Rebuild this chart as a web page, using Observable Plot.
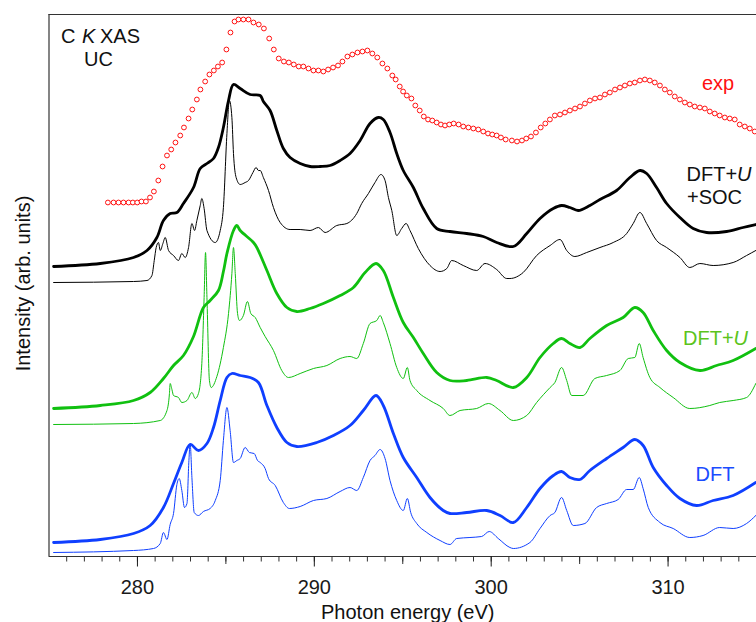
<!DOCTYPE html>
<html>
<head>
<meta charset="utf-8">
<script src="https://cdn.jsdelivr.net/npm/d3@7"></script>
<script src="https://cdn.jsdelivr.net/npm/@observablehq/plot@0.6"></script>
<style>
  html, body { margin: 0; padding: 0; background: #fff; }
</style>
</head>
<body>
<div id="chart"></div>
<script>
// ---- Data (photon energy in eV, intensity in arb. units) ----
const expE = [278.33,278.65,278.93,279.21,279.50,279.74,279.99,280.23,280.48,280.71,280.93,281.18,281.42,281.67,281.91,282.15,282.42,282.63,282.89,283.10,283.36,283.56,283.83,284.07,284.32,284.55,284.79,285.03,285.26,285.49,285.71,285.99,286.28,286.56,286.86,287.15,287.45,287.71,287.99,288.28,288.56,288.84,289.12,289.38,289.67,289.95,290.23,290.51,290.78,291.06,291.34,291.59,291.87,292.15,292.44,292.72,293.00,293.28,293.56,293.85,294.13,294.41,294.60,294.83,295.02,295.23,295.49,295.71,295.96,296.19,296.43,296.67,296.92,297.16,297.39,297.63,297.88,298.16,298.42,298.71,298.99,299.27,299.55,299.82,300.06,300.31,300.55,300.82,301.17,301.46,301.74,301.98,302.25,302.53,302.80,303.06,303.32,303.60,303.89,304.17,304.45,304.74,305.02,305.30,305.58,305.87,306.15,306.43,306.71,307.00,307.28,307.56,307.84,308.12,308.41,308.69,308.97,309.25,309.54,309.82,310.10,310.38,310.67,310.95,311.23,311.51,311.80,312.08,312.36,312.64,312.92,313.21,313.49,313.77,314.05,314.34,314.62,314.90];
const expI = [354,354,354,354,354,354,354,355,355,359,365,376,390,401,407,414,421,429,438,447,457,467,475,482,486,490,494,507,524,535,537,537,537,534,532,528,518,507,498,495,494,492,490,490,488,486,486,485,487,489,491,495,500,502,504,505,506,503,499,493,488,481,477,470,465,461,458,451,446,440,437,436,434,432,431,432,433,432,430,429,428,427,425,423,422,421,419,417,416,415,416,418,420,424,429,433,437,441,442,444,446,448,450,453,456,458,459,462,464,467,469,471,473,474,476,477,476,474,471,467,464,460,457,454,452,450,449,448,445,443,441,439,438,437,432,430,428,425];

// DFT+U+SOC (broadened, thick black)
const socThickE = [275.26,277.90,279.78,280.54,281.10,281.47,281.85,282.23,282.60,283.17,283.55,283.93,284.30,284.58,284.86,285.15,285.43,285.81,286.37,286.94,287.12,287.50,287.88,288.25,288.63,289.20,289.76,290.33,290.89,291.46,292.02,292.59,293.15,293.62,293.90,294.28,294.66,295.03,295.60,296.16,296.92,297.67,298.62,299.55,300.31,301.25,302.01,302.76,303.51,303.98,304.45,304.92,305.58,306.15,307.09,307.84,308.41,308.79,309.35,309.92,310.67,311.42,312.18,313.31,314.24,314.96];
const socThickI = [290,293,299,306,319,336,343,344,353,369,388,393,398,409,429,456,472,468,462,461,455,446,426,408,399,393,390,390,391,396,403,416,433,439,437,424,403,386,369,348,328,325,323,320,314,310,323,338,348,351,349,346,351,357,366,379,386,383,369,353,339,328,324,325,329,332];
// DFT+U+SOC (raw, thin black)
const socThinE = [275.26,279.78,280.54,280.82,280.95,281.06,281.19,281.29,281.44,281.57,281.76,282.04,282.32,282.51,282.70,282.89,283.08,283.23,283.36,283.55,283.64,283.77,283.93,284.40,284.68,284.86,285.06,285.20,285.34,285.43,285.58,285.81,286.09,286.28,286.53,286.71,286.84,286.94,287.12,287.41,287.69,288.07,288.63,289.20,289.76,290.23,290.61,291.27,291.84,292.40,292.68,293.06,293.43,293.77,294.00,294.19,294.38,294.66,294.94,295.19,295.41,295.88,296.54,297.11,297.49,297.77,298.42,299.18,299.65,300.31,300.88,301.06,301.81,302.57,303.33,303.89,304.27,304.73,305.40,306.15,306.90,307.66,308.03,308.41,308.79,309.35,309.92,310.67,311.23,311.80,312.55,313.68,314.44,314.96];
const socThinI = [274,275,276,281,296,309,314,306,313,319,306,301,296,303,299,309,333,326,336,351,358,348,326,314,326,349,423,456,439,403,379,372,374,376,384,389,386,386,379,366,349,334,327,327,326,329,324,331,333,343,353,363,374,382,376,359,346,321,328,333,326,308,291,285,288,296,291,286,293,287,278,278,284,301,311,317,306,300,304,309,314,323,333,344,333,316,309,299,289,293,291,294,301,306];

// DFT+U (thick / thin green)
const dftuThickE = [275.26,277.90,279.78,280.72,281.47,282.04,282.60,283.17,283.73,284.11,284.58,284.86,285.06,285.43,285.62,285.81,286.56,286.75,287.32,287.88,288.45,289.01,289.76,290.51,291.46,292.21,292.87,293.49,293.90,294.47,295.03,295.60,296.16,296.92,297.67,298.62,299.75,300.31,301.25,302.01,302.76,303.51,303.98,304.45,305.02,305.58,306.53,307.46,308.12,308.59,309.16,309.92,310.67,311.80,312.74,313.68,314.96];
const dftuThickI = [148,151,156,164,178,191,201,220,249,256,266,285,303,326,331,326,314,309,286,263,249,245,248,253,261,269,284,293,286,259,234,219,203,184,176,176,179,176,169,179,199,213,218,213,209,218,231,239,249,244,226,206,194,186,191,196,208];
const dftuThinE = [275.26,279.78,281.29,281.67,281.81,281.85,281.95,282.04,282.32,282.51,282.80,283.08,283.27,283.45,283.64,283.77,283.85,283.93,284.07,284.17,284.49,284.86,285.15,285.34,285.43,285.53,285.66,285.77,285.99,286.22,286.41,286.66,286.94,287.22,287.69,288.16,288.54,289.20,289.95,290.71,291.46,292.02,292.40,292.77,293.15,293.53,293.72,293.90,294.28,294.66,295.03,295.26,295.41,295.79,296.54,297.29,297.67,298.24,299.18,299.84,300.50,301.25,302.01,302.57,303.33,303.60,303.98,304.27,304.55,305.20,305.86,306.53,307.28,307.75,308.12,308.37,308.59,308.97,309.54,310.29,311.23,312.36,312.92,313.68,314.44,314.96];
const dftuThinI = [132,133,136,146,163,173,167,161,159,154,156,164,158,163,193,259,304,259,176,169,180,209,243,283,309,283,243,236,241,255,243,239,229,220,206,186,179,183,188,191,198,200,198,213,233,236,241,234,213,189,178,189,176,166,156,148,141,146,148,153,146,136,141,154,169,174,189,176,161,161,178,181,186,198,199,213,199,179,169,159,148,151,154,156,159,173];

// DFT (thick / thin blue)
const dftThickE = [275.26,277.90,279.78,280.72,281.47,282.04,282.51,282.98,283.45,283.93,284.30,284.68,285.06,285.34,285.81,286.37,286.84,287.32,287.88,288.45,289.01,290.14,291.08,292.02,292.77,293.49,293.90,294.47,295.03,295.79,296.54,297.29,297.67,298.62,299.75,300.50,301.25,302.01,302.76,303.51,303.98,304.45,305.02,305.58,306.53,307.46,308.12,308.59,309.16,309.92,310.67,311.61,312.55,313.68,314.96];
const dftThickI = [14,17,23,31,49,73,94,112,106,113,129,156,179,183,181,179,174,151,129,114,110,114,121,131,146,161,151,123,99,79,59,46,43,44,46,41,34,49,68,81,85,79,77,86,98,109,117,111,89,71,58,51,56,61,74];
const dftThinE = [275.26,279.78,280.91,281.29,281.47,281.67,281.85,282.04,282.23,282.36,282.51,282.66,282.80,282.91,282.98,283.08,283.21,283.45,283.73,284.11,284.40,284.68,284.86,285.06,285.24,285.43,285.62,285.81,286.09,286.33,286.60,286.79,286.94,287.22,287.41,287.79,288.25,288.59,289.20,289.95,290.71,291.46,292.02,292.40,292.77,293.15,293.43,293.72,294.00,294.28,294.66,295.03,295.26,295.45,295.79,296.36,297.11,297.67,298.05,298.80,299.46,299.89,300.40,301.06,301.25,302.19,302.76,303.33,303.60,303.98,304.27,304.64,305.30,305.96,306.53,307.18,307.66,308.03,308.37,308.59,308.88,309.54,310.29,311.23,311.98,312.92,313.68,314.44,314.96];
const dftThinI = [4,6,8,13,24,17,32,43,72,78,66,49,53,96,113,79,44,41,45,48,56,76,116,149,126,94,96,98,109,104,103,96,94,88,78,71,54,48,50,56,58,65,69,66,79,96,101,107,98,76,56,46,58,44,33,24,16,12,18,19,20,25,18,9,8,14,28,41,44,59,46,31,33,49,53,57,67,67,79,68,49,34,28,19,21,29,28,33,41];

// Axis ticks and labels
const xDomain = [275, 315];
const yDomain = [0, 542];
const labelTicks = [280, 290, 300, 310];
const midTicks = [285, 295, 305];
const minorTicks = d3.range(276, 315);
const xTitle = "Photon energy (eV)";
const yTitle = "Intensity (arb. units)";

// ---- Build tables ----
const rows = (E, I) => E.map((e, i) => ({E: e, I: I[i]}));
const expRows = rows(expE, expI);

const FONT = "'Liberation Sans', Arial, Helvetica, sans-serif";
const BLACK = "#000000", GREEN = "#10c010", BLUE = "#0f3fff", RED = "#ff1010";
const GREEN_LABEL = "#5cc41c", BLUE_LABEL = "#1a4cff";
const FRAME = "#333333";

function label(text, dx, dy, opts = {}) {
  return Plot.text([text], {
    frameAnchor: "top-left", text: d => d, dx, dy,
    textAnchor: "start", lineAnchor: "bottom", fontSize: 20, ...opts
  });
}

const chart = Plot.plot({
  width: 756,
  height: 622,
  marginLeft: 48.5,
  marginRight: 0,
  marginTop: 14,
  marginBottom: 66,
  style: {fontFamily: FONT, fontSize: "20px", background: "#fff", color: "#111"},
  x: {domain: xDomain},
  y: {domain: yDomain, axis: null},
  marks: [
    // frame (left, top, bottom)
    Plot.ruleX([xDomain[0]], {stroke: FRAME, strokeWidth: 1.2}),
    Plot.ruleY([yDomain[1]], {stroke: FRAME, strokeWidth: 1.2}),
    Plot.ruleY([yDomain[0]], {stroke: FRAME, strokeWidth: 1.2}),
    // ticks
    Plot.axisX(minorTicks, {tickSize: 5.5, tickFormat: () => "", color: FRAME, label: null}),
    Plot.axisX(midTicks, {tickSize: 8, tickFormat: () => "", color: FRAME, label: null}),
    Plot.axisX(labelTicks, {tickSize: 10.5, tickPadding: 12.5, fontSize: 20, color: "#1a1a1a", label: null}),
    // thin spectra
    Plot.line(rows(socThinE, socThinI), {x: "E", y: "I", stroke: BLACK, strokeWidth: 1, curve: "monotone-x"}),
    Plot.line(rows(dftuThinE, dftuThinI), {x: "E", y: "I", stroke: GREEN, strokeWidth: 1, curve: "monotone-x"}),
    Plot.line(rows(dftThinE, dftThinI), {x: "E", y: "I", stroke: BLUE, strokeWidth: 1, curve: "monotone-x"}),
    // thick (broadened) spectra
    Plot.line(rows(socThickE, socThickI), {x: "E", y: "I", stroke: BLACK, strokeWidth: 2.8, curve: "catmull-rom"}),
    Plot.line(rows(dftuThickE, dftuThickI), {x: "E", y: "I", stroke: GREEN, strokeWidth: 2.8, curve: "catmull-rom"}),
    Plot.line(rows(dftThickE, dftThickI), {x: "E", y: "I", stroke: BLUE, strokeWidth: 2.8, curve: "catmull-rom"}),
    // experiment
    Plot.dot(expRows, {x: "E", y: "I", r: 2.4, stroke: RED, strokeWidth: 1, fill: "#fff"}),
    // axis titles
    Plot.text([xTitle], {frameAnchor: "bottom", text: d => d, dx: 5, dy: 62.5, textAnchor: "middle", lineAnchor: "bottom", fontSize: 20, fill: "#111"}),
    Plot.text([yTitle], {frameAnchor: "left", text: d => d, rotate: -90, dx: -19.5, dy: -2, textAnchor: "middle", lineAnchor: "bottom", fontSize: 20, fill: "#111"}),
    // annotations
    label("C", 12, 28.3, {fill: "#111"}),
    label("K", 33, 28.3, {fill: "#111", fontStyle: "italic"}),
    label("XAS", 51, 28.3, {fill: "#111"}),
    label("UC", 35, 51, {fill: "#111"}),
    label("exp", 653, 75.3, {fill: RED}),
    label("DFT+", 637.5, 166, {fill: "#111"}),
    label("U", 688, 166, {fill: "#111", fontStyle: "italic"}),
    label("+SOC", 638, 189, {fill: "#111"}),
    label("DFT+", 634, 330, {fill: GREEN_LABEL}),
    label("U", 684.5, 330, {fill: GREEN_LABEL, fontStyle: "italic"}),
    label("DFT", 646.5, 466, {fill: BLUE_LABEL})
  ]
});

document.getElementById("chart").appendChild(chart);
</script>
</body>
</html>
